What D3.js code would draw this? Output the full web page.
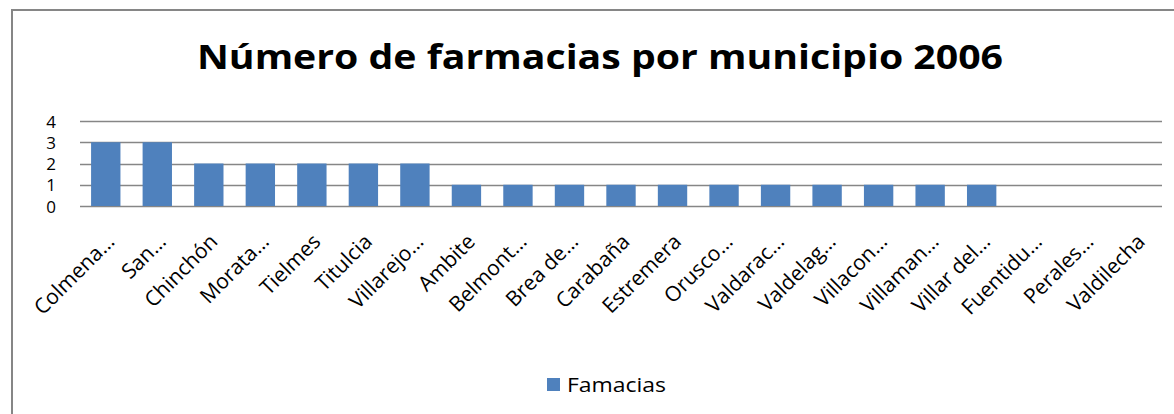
<!DOCTYPE html>
<html>
<head>
<meta charset="utf-8">
<script src="https://cdn.jsdelivr.net/npm/d3@7"></script>
<style>
  html, body { margin: 0; padding: 0; background: #fff; }
  svg { display: block; }
  text { font-family: "Open Sans", "Lato", "Liberation Sans", sans-serif; fill: #000; }
</style>
</head>
<body>
<svg id="chart" width="1174" height="414"></svg>
<script>
// Pharmacies per municipality, 2006
const municipios = [
  "Colmena…", "San…", "Chinchón", "Morata…", "Tielmes", "Titulcia", "Villarejo…",
  "Ambite", "Belmont…", "Brea de…", "Carabaña", "Estremera", "Orusco…", "Valdarac…",
  "Valdelag…", "Villacon…", "Villaman…", "Villar del…", "Fuentidu…", "Perales…", "Valdilecha"
];
const farmacias = [3, 3, 2, 2, 2, 2, 2, 1, 1, 1, 1, 1, 1, 1, 1, 1, 1, 1, 0, 0, 0];
const yTicks = [0, 1, 2, 3, 4];
const titulo = "Número de farmacias por municipio 2006";
const serie = "Famacias";

const svg = d3.select("#chart");
const W = 1174, H = 414;
const plot = { left: 80, right: 1162, top: 121, bottom: 206 };
const barColor = "#4F81BD";
const gridColor = "#868686";

// chart frame (runs past the right and bottom edges)
svg.append("rect")
  .attr("x", 12).attr("y", 10)
  .attr("width", W + 20).attr("height", H + 20)
  .attr("fill", "none").attr("stroke", gridColor).attr("stroke-width", 2);

// title
svg.append("text")
  .attr("x", 600).attr("y", 69)
  .attr("text-anchor", "middle")
  .attr("textLength", 806)
  .attr("lengthAdjust", "spacingAndGlyphs")
  .style("font-weight", "bold")
  .style("font-size", "34px")
  .text(titulo);

const x = d3.scaleBand()
  .domain(municipios)
  .range([plot.left, plot.right])
  .paddingInner(0.43)
  .paddingOuter(0.215);

const y = d3.scaleLinear()
  .domain([0, 4])
  .range([plot.bottom, plot.top]);

// horizontal gridlines
svg.append("g")
  .selectAll("line")
  .data(yTicks)
  .join("line")
  .attr("x1", plot.left).attr("x2", plot.right)
  .attr("y1", d => Math.round(y(d)) + 0.5)
  .attr("y2", d => Math.round(y(d)) + 0.5)
  .attr("stroke", gridColor)
  .attr("stroke-width", 1.3);

// y-axis labels
const yAxis = d3.axisLeft(y).tickValues(yTicks).tickFormat(d3.format("d")).tickSize(0).tickPadding(0);
const gy = svg.append("g")
  .attr("transform", `translate(56,0)`)
  .call(yAxis);
gy.select(".domain").remove();
gy.selectAll("text")
  .style("font-size", "17px")
  .style("font-family", "'Open Sans', Lato, sans-serif")
  .attr("fill", "#000")
  .attr("dy", "0.36em");

// bars
svg.append("g")
  .selectAll("rect")
  .data(municipios.map((m, i) => ({ m, v: farmacias[i] })))
  .join("rect")
  .attr("x", d => x(d.m))
  .attr("width", x.bandwidth())
  .attr("y", d => y(d.v))
  .attr("height", d => y(0) - y(d.v))
  .attr("fill", barColor);

// category labels, rotated 45°
const xAxis = d3.axisBottom(x).tickSize(0).tickPadding(0);
const gx = svg.append("g")
  .attr("transform", `translate(0,${plot.bottom})`)
  .call(xAxis);
gx.select(".domain").remove();
gx.selectAll(".tick text")
  .style("font-size", "21px")
  .style("font-family", "'Open Sans', Lato, sans-serif")
  .attr("fill", "#000")
  .attr("text-anchor", "end")
  .attr("dy", null)
  .attr("y", null)
  .attr("transform", "translate(10,37) rotate(-45)");

// legend
const lg = svg.append("g").attr("transform", "translate(547,378)");
lg.append("rect").attr("width", 13).attr("height", 13).attr("fill", barColor);
lg.append("text")
  .attr("x", 20).attr("y", 14)
  .attr("textLength", 99)
  .attr("lengthAdjust", "spacingAndGlyphs")
  .style("font-size", "20px")
  .text(serie);
</script>
</body>
</html>
